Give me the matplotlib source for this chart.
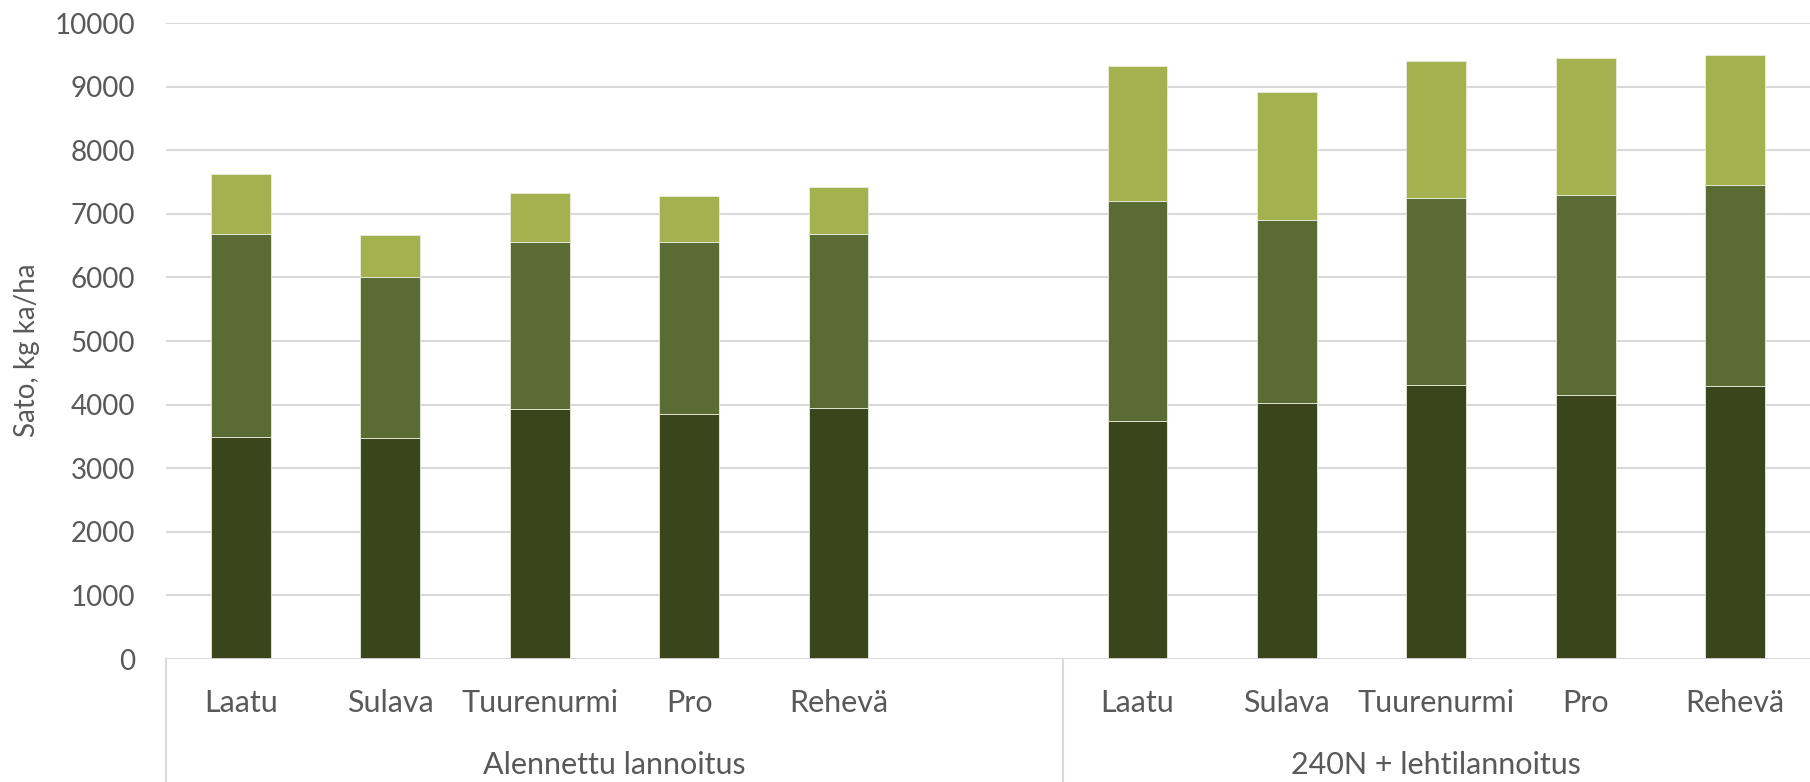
import numpy as np
import matplotlib.pyplot as plt

plt.rcParams['font.family'] = ['Lato', 'DejaVu Sans']

# data (kg ka/ha per segment)
lajikkeet = ['Laatu', 'Sulava', 'Tuurenurmi', 'Pro', 'Rehevä']
ryhmat = ['Alennettu lannoitus', '240N + lehtilannoitus']

alin = [3490, 3475, 3930, 3855, 3940, 3750, 4030, 4315, 4155, 4300]
keski = [3185, 2530, 2625, 2695, 2735, 3450, 2865, 2930, 3140, 3155]
ylin = [945, 660, 775, 735, 745, 2125, 2025, 2160, 2155, 2035]

colors = ['#3A451C', '#5A6B34', '#A3B14F']
text_color = '#595959'
grid_color = '#D9D9D9'

# 5 bars, one empty slot, 5 bars
x = np.array([0, 1, 2, 3, 4, 6, 7, 8, 9, 10])

fig = plt.figure(figsize=(18.1, 7.82), dpi=100)
ax = fig.add_axes([166 / 1810, 1 - 659 / 782, 1 - 166 / 1810, (659 - 23) / 782])

b1 = np.array(alin)
b2 = b1 + np.array(keski)
ax.bar(x, alin, width=0.4, color=colors[0], edgecolor='#E8ECDD', linewidth=0.6, zorder=3)
ax.bar(x, keski, width=0.4, bottom=b1, color=colors[1], edgecolor='#E8ECDD', linewidth=0.6, zorder=3)
ax.bar(x, ylin, width=0.4, bottom=b2, color=colors[2], edgecolor='#E8ECDD', linewidth=0.6, zorder=3)

ax.set_xlim(-0.5, 10.5)
ax.set_ylim(0, 10000)
ax.set_yticks(range(0, 10001, 1000))
ax.tick_params(axis='y', length=0, pad=22, labelsize=20, labelcolor=text_color)
ax.set_xticks([])
ax.grid(axis='y', color=grid_color, linewidth=1.5, zorder=0)

for s in ax.spines.values():
    s.set_visible(False)
ax.axhline(0, color=grid_color, linewidth=2, zorder=4)

# multi-level category axis
trans = ax.get_xaxis_transform()
y_bottom = -(1 - 659 / 782) / ((659 - 23) / 782)
for sx in [-0.5, 5.5]:
    ax.plot([sx, sx], [0, y_bottom], color=grid_color, linewidth=1.5,
            transform=trans, clip_on=False)

for i, xi in enumerate(x):
    ax.text(xi, -44 / 636, lajikkeet[i % 5], transform=trans, ha='center', va='center',
            fontsize=22, color=text_color)

ax.text(2.5, -106 / 636, ryhmat[0], transform=trans, ha='center', va='center',
        fontsize=22, color=text_color)
ax.text(8.0, -106 / 636, ryhmat[1], transform=trans, ha='center', va='center',
        fontsize=22, color=text_color)

fig.text(27 / 1810, 1 - 350 / 782, 'Sato, kg ka/ha', rotation=90, ha='center', va='center',
         fontsize=20, color=text_color)

fig.savefig('out.png', dpi=100)
